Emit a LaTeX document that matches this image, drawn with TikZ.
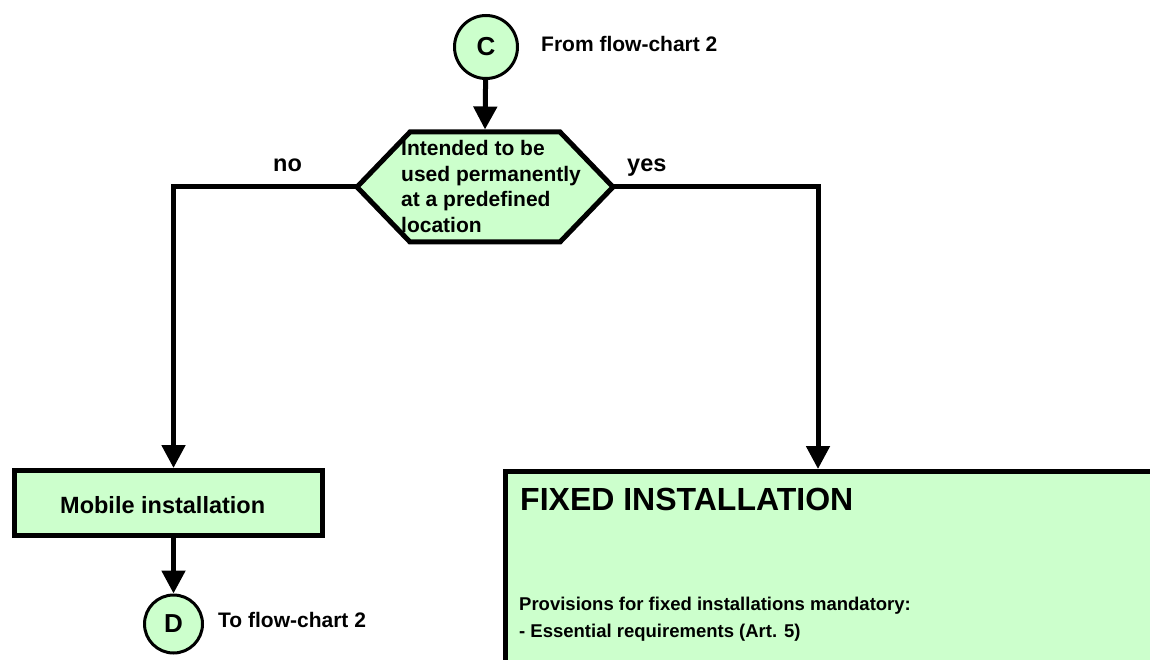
\documentclass[tikz,border=0pt]{standalone}
\usepackage{fontspec}
\setmainfont{Liberation Sans}
\usetikzlibrary{arrows.meta}
\definecolor{boxgreen}{HTML}{CCFFCC}
\begin{document}
\begin{tikzpicture}[x=1pt,y=-1pt,
  conn/.style={circle, draw=black, line width=3pt, fill=boxgreen, inner sep=0pt,
    font=\fontsize{26}{26}\selectfont\bfseries},
  flow/.style={line width=5pt, -{Triangle[width=23pt,length=23pt]}},
  shapeline/.style={draw=black, line width=5pt, fill=boxgreen},
  lbl/.style={inner sep=0pt, font=\fontsize{21}{21}\selectfont\bfseries},
  biglbl/.style={inner sep=0pt, font=\fontsize{23.5}{23.5}\selectfont\bfseries},
  boxtxt/.style={inner sep=0pt, font=\fontsize{18.5}{18.5}\selectfont\bfseries},
  mobilebox/.style={rectangle, draw=black, line width=5pt, fill=boxgreen,
    minimum width=308pt, minimum height=65pt, inner sep=0pt}
]
\useasboundingbox (0,0) rectangle (1150,660);
\clip (0,0) rectangle (1150,660);

% connector C
\node[conn, minimum size=63pt] (C) at (486,47) {C};
\node[lbl, anchor=base west] (fromlbl) at (541,52) {From flow-chart 2};

% hexagon decision
\coordinate (hL) at (357,187);
\coordinate (hR) at (613,187);
\coordinate (hT) at (485,129.5);
\filldraw[shapeline, line join=miter] (hL) -- (410,132) -- (560,132) -- (hR) -- (560,242) -- (410,242) -- cycle;
\node[inner sep=0pt, align=left, anchor=west, font=\fontsize{21}{25.5}\selectfont\bfseries] (htext) at (401,186.5)
  {Intended to be\\used permanently\\at a predefined\\location};

\draw[flow] (C) -- (hT);

% mobile installation
\node[mobilebox] (mobile) at (168.5,503) {};
\node[biglbl, anchor=base west] (mobiletxt) at (60,513) {Mobile installation};

% fixed installation box
\coordinate (fixTL) at (505.5,471.5);
\coordinate (fixBR) at (1175,690);
\coordinate (fixIn) at (818,469);
\filldraw[shapeline] (fixTL) rectangle (fixBR);

% branches
\draw[flow, line join=miter] (hL) -| ([xshift=5pt]mobile.north);
\draw[flow, line join=miter] (hR) -| (fixIn);
\node[biglbl, anchor=base west] (nolbl) at (273,172) {no};
\node[biglbl, anchor=base west] (yeslbl) at (627,172) {yes};

% connector D
\node[conn, minimum size=58pt] (D) at (173.5,624) {D};
\draw[flow] ([xshift=5pt]mobile.south) -- (D);
\node[lbl, anchor=base west] (tolbl) at (218,627) {To flow-chart 2};

% fixed installation texts
\node[inner sep=0pt, anchor=base west, font=\fontsize{32}{32}\selectfont\bfseries] (fixtitle) at (520,510) {FIXED INSTALLATION};
\node[boxtxt, anchor=base west] (prov) at (519,610) {Provisions for fixed installations mandatory:};
\node[boxtxt, anchor=base west] (ess) at (519,637) {- Essential requirements (Art. 5)};
\end{tikzpicture}
\end{document}
